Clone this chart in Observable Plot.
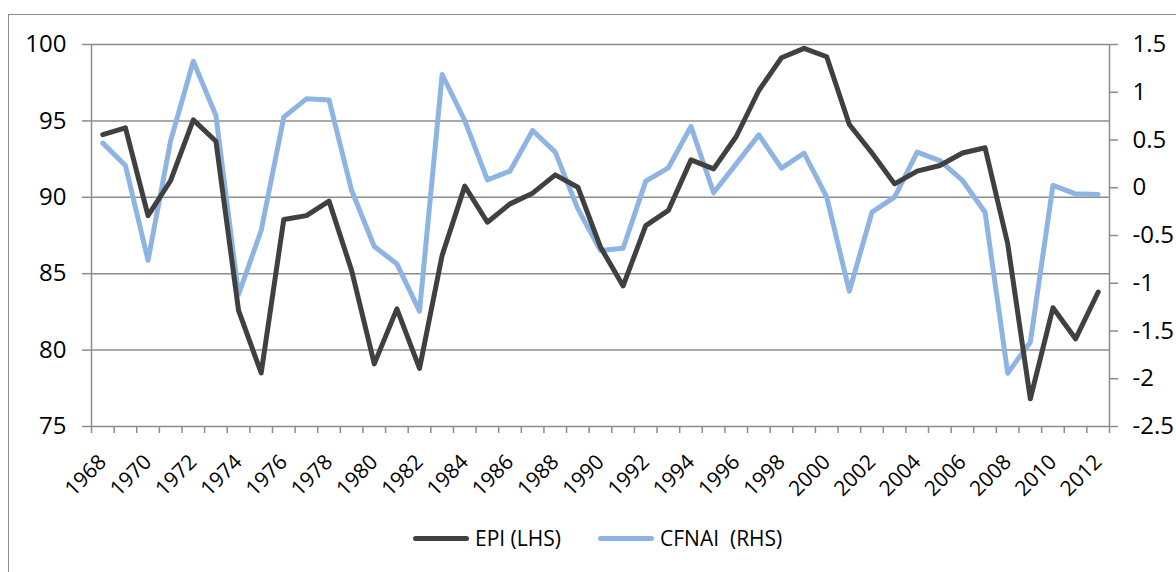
<!DOCTYPE html>
<html>
<head>
<meta charset="utf-8">
<script src="https://cdn.jsdelivr.net/npm/d3@7"></script>
<script src="https://cdn.jsdelivr.net/npm/@observablehq/plot@0.6"></script>
<style>
  html, body { margin: 0; padding: 0; background: #fff; }
  body { width: 1176px; height: 572px; overflow: hidden; position: relative; font-family: "Open Sans", sans-serif; }
  #frame { position: absolute; left: 8px; top: 14px; width: 1300px; height: 700px; border-left: 1.5px solid #8c8c8c; border-top: 1.5px solid #8c8c8c; }
  #chart { position: absolute; left: 0; top: 0; }
  #chart svg text { font-family: "Open Sans", sans-serif !important; font-size: 24px !important; }
  #chart svg g[aria-label="x-axis tick label"] text { font-size: 21px !important; }
  .legend { position: absolute; top: 523px; left: 0; width: 1176px; height: 30px; font-size: 21px; color: #000; }
  .legend .item { position: absolute; top: 0; height: 30px; display: flex; align-items: center; white-space: pre; }
  .legend .sw { flex: 0 0 56px; width: 56px; height: 5px; border-radius: 3px; margin-right: 6px; }
</style>
</head>
<body>
<div id="frame"></div>
<div id="chart"></div>
<div class="legend">
  <div class="item" style="left:413px"><span class="sw" style="background:#404040"></span><span>EPI (LHS)</span></div>
  <div class="item" style="left:598px"><span class="sw" style="background:#8db4e2"></span><span>CFNAI  (RHS)</span></div>
</div>
<script>
const years = d3.range(1968, 2013);
const epi = [94.1, 94.55, 88.8, 91.1, 95.07, 93.67, 82.6, 78.5, 88.55, 88.8, 89.75, 85.2, 79.1, 82.7, 78.8,
  86.2, 90.73, 88.37, 89.57, 90.27, 91.47, 90.66, 86.74, 84.2, 88.15, 89.14, 92.45, 91.86, 93.98, 96.99, 99.13,
  99.75, 99.2, 94.76, 92.9, 90.88, 91.71, 92.08, 92.9, 93.24, 86.96, 76.81, 82.77, 80.74, 83.8];
const cfnai = [0.467, 0.233, -0.76, 0.495, 1.325, 0.757, -1.118, -0.448, 0.739, 0.931, 0.92, -0.029, -0.615, -0.797, -1.292,
  1.186, 0.704, 0.083, 0.174, 0.6, 0.373, -0.221, -0.657, -0.633, 0.069, 0.209, 0.641, -0.053, 0.25, 0.554, 0.205,
  0.362, -0.099, -1.083, -0.256, -0.099, 0.373, 0.285, 0.076, -0.256, -1.942, -1.617, 0.024, -0.064, -0.07];
const lhsTicks = [75, 80, 85, 90, 95, 100];
const rhsTicks = [-2.5, -2, -1.5, -1, -0.5, 0, 0.5, 1, 1.5];
const labelYears = years.filter(y => y % 2 === 0);

// map right-hand values into left-hand scale domain
const L0 = 75, L1 = 100, R0 = -2.5, R1 = 1.5;
const toL = v => L0 + (v - R0) / (R1 - R0) * (L1 - L0);
const fromL = v => Math.round((R0 + (v - L0) / (L1 - L0) * (R1 - R0)) * 10) / 10;

const rows = years.map((y, i) => ({year: y, epi: epi[i], cfnai: cfnai[i]}));
const boundaries = d3.range(years.length + 1).map(k => years[0] - 0.5 + k);

const grey = "#8c8c8c";
const chart = Plot.plot({
  width: 1176,
  height: 510,
  marginLeft: 91,
  marginRight: 67,
  marginTop: 44,
  marginBottom: 84,
  style: {fontFamily: "Open Sans, sans-serif", fontSize: "24px", color: "#000", background: "transparent"},
  x: {type: "linear", domain: [years[0] - 0.5, years[years.length - 1] + 0.5]},
  y: {domain: [L0, L1]},
  marks: [
    Plot.gridY(lhsTicks, {stroke: grey, strokeOpacity: 1, strokeWidth: 1.5}),
    Plot.ruleX([boundaries[0], boundaries[boundaries.length - 1]], {stroke: grey, strokeWidth: 1.5}),
    Plot.axisY(lhsTicks, {anchor: "left", tickSize: 9, tickPadding: 16, stroke: grey, strokeWidth: 1.5, label: null, tickFormat: d => String(d), fill: "#000"}),
    Plot.axisY(rhsTicks.map(toL), {anchor: "right", tickSize: 8, tickPadding: 15, stroke: grey, strokeWidth: 1.5, label: null, tickFormat: d => String(fromL(d)), fill: "#000"}),
    Plot.axisX(boundaries, {anchor: "bottom", tickSize: 7, tickFormat: () => "", stroke: grey, strokeWidth: 1.5, label: null}),
    Plot.axisX(labelYears, {anchor: "bottom", tickSize: 0, tickPadding: 32, dx: 0, tickRotate: -45, tickFormat: d => String(d), label: null, fill: "#000"}),
    Plot.line(rows, {x: "year", y: d => toL(d.cfnai), stroke: "#8db4e2", strokeWidth: 5, strokeLinejoin: "round", strokeLinecap: "round"}),
    Plot.line(rows, {x: "year", y: "epi", stroke: "#404040", strokeWidth: 5, strokeLinejoin: "round", strokeLinecap: "round"})
  ]
});
document.getElementById("chart").appendChild(chart);
</script>
</body>
</html>
